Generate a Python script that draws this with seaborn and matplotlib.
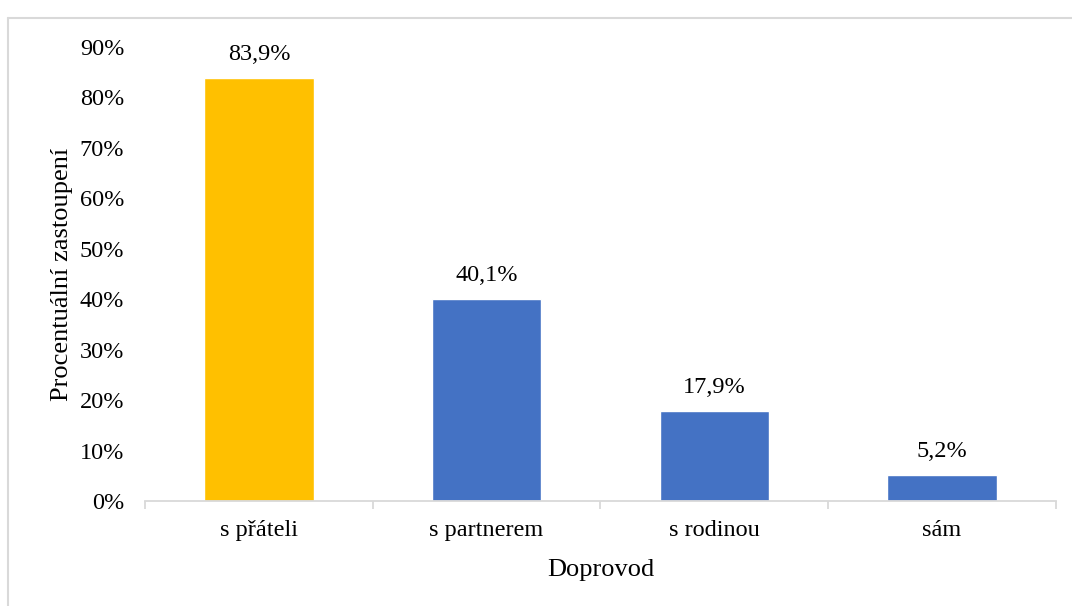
import matplotlib
matplotlib.use("Agg")
import matplotlib.pyplot as plt
from matplotlib.lines import Line2D
from matplotlib.ticker import FixedLocator, PercentFormatter
import seaborn as sns
import pandas as pd

categories = ["s přáteli", "s partnerem", "s rodinou", "sám"]
values = [83.9, 40.1, 17.9, 5.2]
value_labels = ["83,9%", "40,1%", "17,9%", "5,2%"]
bar_colors = ["#FFC000", "#4472C4", "#4472C4", "#4472C4"]
y_ticks = [0, 10, 20, 30, 40, 50, 60, 70, 80, 90]

sns.set_theme(style="white")
plt.rcParams["font.family"] = ["Liberation Serif", "DejaVu Serif"]

df = pd.DataFrame({"Doprovod": categories, "Podíl": values})

fig = plt.figure(figsize=(10.72, 6.06), dpi=100)
ax = fig.add_axes([0.1353, 0.1733, 0.8497, 0.7491])

sns.barplot(data=df, x="Doprovod", y="Podíl", hue="Doprovod",
            palette=bar_colors, legend=False, width=0.48,
            saturation=1, ax=ax)

ax.set_xlim(-0.5, len(categories) - 0.5)
ax.set_ylim(0, 90)
ax.yaxis.set_major_locator(FixedLocator(y_ticks))
ax.yaxis.set_major_formatter(PercentFormatter(decimals=0))

for container in ax.containers:
    for bar in container:
        idx = int(round(bar.get_x() + bar.get_width() / 2))
        ax.annotate(value_labels[idx],
                    (bar.get_x() + bar.get_width() / 2, bar.get_height()),
                    xytext=(0, 9), textcoords="offset points",
                    ha="center", va="bottom", fontsize=17.5, color="#000000")

for side in ["top", "right", "left"]:
    ax.spines[side].set_visible(False)
ax.spines["bottom"].set_color("#D9D9D9")
ax.spines["bottom"].set_linewidth(1.3)

# category separators on the x axis
ax.xaxis.set_minor_locator(FixedLocator([i - 0.5 for i in range(len(categories) + 1)]))
ax.tick_params(axis="x", which="minor", bottom=True, length=6, width=1.3,
               color="#D9D9D9")
ax.tick_params(axis="x", which="major", bottom=False, labelsize=17.5, pad=8,
               labelcolor="#000000")
ax.tick_params(axis="y", left=False, labelsize=17.5, pad=9, labelcolor="#000000")

ax.set_xlabel("Doprovod", fontsize=19, color="#000000")
ax.set_ylabel("Procentuální zastoupení", fontsize=19, color="#000000")
ax.xaxis.label.set_verticalalignment("center")
ax.yaxis.label.set_verticalalignment("center")
ax.xaxis.set_label_coords(0.5, -0.152)
ax.yaxis.set_label_coords(-0.0911, 0.5)

# light frame around the chart
fig.add_artist(Line2D([0.0075, 1.0], [1 - 17.5 / 606, 1 - 17.5 / 606],
                      transform=fig.transFigure, color="#D9D9D9", linewidth=1.5))
fig.add_artist(Line2D([0.0075, 0.0075], [0.0, 1 - 17.5 / 606],
                      transform=fig.transFigure, color="#D9D9D9", linewidth=1.5))

fig.savefig("out.png", dpi=100)
